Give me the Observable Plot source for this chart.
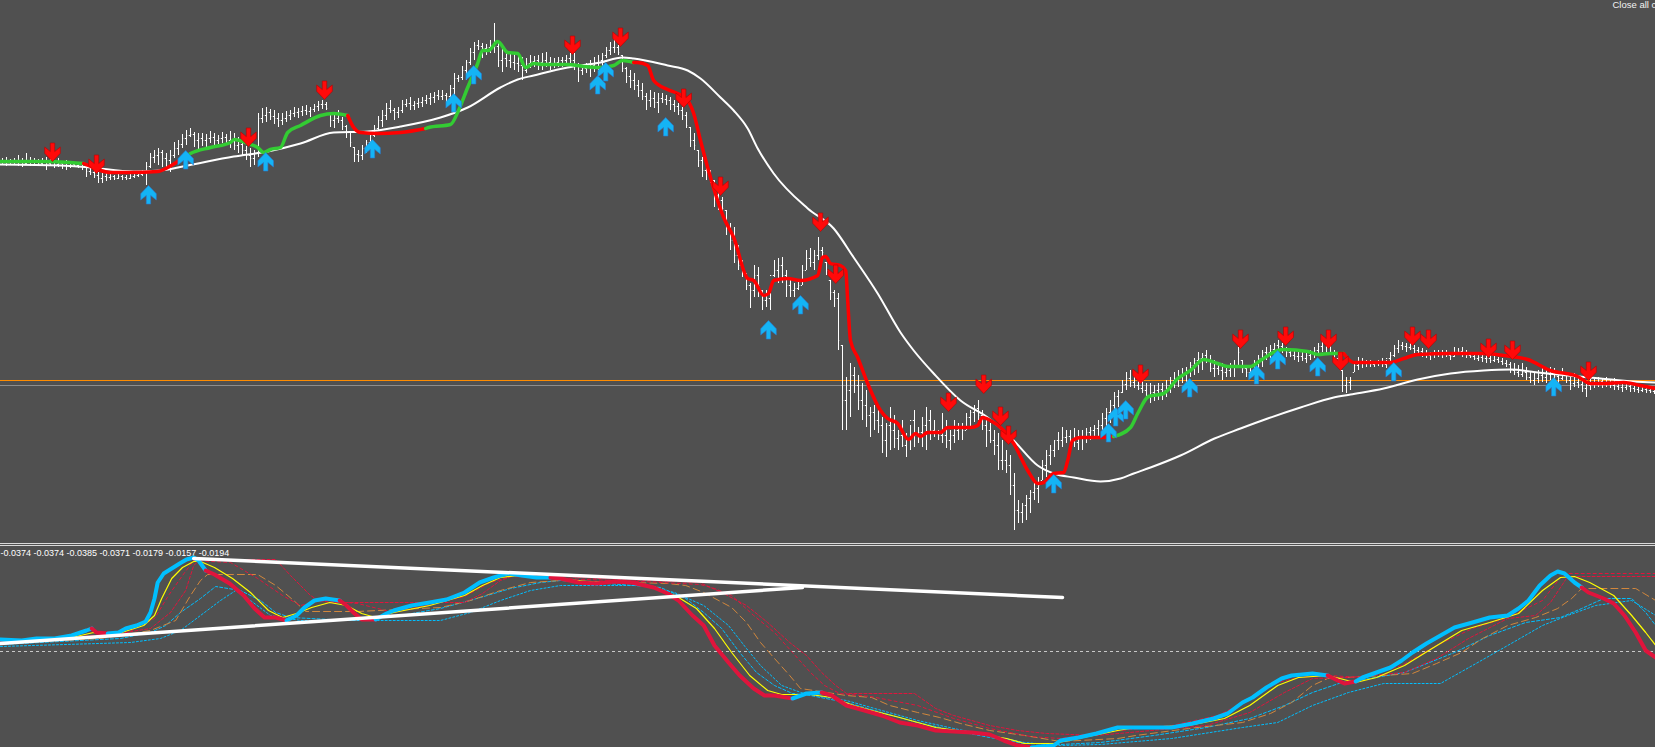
<!DOCTYPE html>
<html><head><meta charset="utf-8">
<script src="https://cdn.jsdelivr.net/npm/d3@7"></script>
<script src="https://cdn.jsdelivr.net/npm/@observablehq/plot@0.6"></script>
<style>
html,body{margin:0;padding:0;background:#505050;overflow:hidden;width:1655px;height:747px}
#main,#osc{line-height:0}
#sep{height:1px;border-top:1px solid #d9d9d9;border-bottom:1px solid #d9d9d9;background:#505050}
svg{display:block}
</style></head><body>
<div id="main"></div><div id="sep"></div><div id="osc"></div>
<script>
// ---------- price panel (levels measured downward, 0 = top of panel) ----------
const barHigh = [
158,157,159,158,155,158,153,157,158,159,
158,157,159,160,158,161,160,162,163,164,
163,165,167,170,172,173,172,174,175,174,
175,175,174,172,171,170,162,153,150,148,
150,153,150,142,140,134,130,128,132,133,
133,134,131,133,135,132,134,131,133,137,
142,146,148,150,113,108,107,109,110,113,
113,111,110,107,108,106,105,107,104,101,
100,102,113,115,110,117,125,132,147,150,
145,140,133,125,116,110,103,100,108,107,
100,99,97,101,98,97,95,93,92,90,
90,93,85,73,75,66,60,48,42,40,
43,44,40,23,43,47,50,52,53,55,
57,58,55,56,55,53,52,57,58,57,
57,55,53,53,63,65,63,60,57,55,
53,47,42,38,45,55,67,70,73,80,
83,93,90,92,93,93,95,97,100,103,
107,112,127,133,150,157,165,170,180,188,
197,210,223,227,245,260,273,283,265,267,
290,290,293,260,258,257,270,280,283,280,
265,250,248,250,237,247,262,280,290,293,
345,377,363,367,375,383,390,407,405,410,
417,423,407,415,430,420,433,425,410,427,
417,407,410,420,430,413,420,430,420,423,
423,413,410,405,400,410,417,423,430,433,
440,450,455,473,500,503,495,490,483,477,
460,450,445,440,432,427,430,430,428,430,
430,428,427,425,420,413,408,400,392,390,
380,372,370,373,377,380,383,383,385,383,
383,380,377,372,370,368,367,362,358,352,
353,350,355,360,362,363,365,363,360,347,
360,365,367,360,355,350,347,345,343,340,
343,347,348,350,350,350,353,350,347,343,
338,340,340,350,353,370,377,377,362,357,
358,360,360,361,360,358,360,352,345,340,
342,343,343,345,347,348,350,352,350,350,
350,350,352,347,348,347,350,352,353,355,
353,355,353,355,357,358,360,362,363,365,
363,367,372,373,370,368,370,367,368,372,
368,372,377,373,375,377,380,378,378,377,
378,377,380,378,380,382,383,383,385,385,
385,385,386,387];
const barLow = [
165,166,164,165,166,167,165,166,164,166,
166,170,165,168,167,169,170,168,167,168,
170,177,175,178,183,183,181,180,180,179,
180,180,179,178,177,176,185,168,163,165,
167,168,172,158,155,148,145,137,147,150,
146,147,143,145,144,143,145,148,150,153,
156,160,167,165,157,123,122,120,124,127,
125,122,120,117,118,116,115,117,112,111,
109,110,127,128,123,130,138,147,162,162,
160,153,147,137,130,127,120,113,120,118,
113,107,110,110,108,107,104,105,103,100,
100,103,100,96,82,80,80,65,60,50,
58,55,53,53,67,72,67,68,70,72,
80,73,68,67,70,70,67,70,68,67,
67,65,67,70,82,75,73,77,72,70,
70,58,55,53,55,72,83,88,90,97,
100,110,107,108,113,103,105,110,112,115,
120,128,147,150,167,177,180,183,207,210,
213,235,250,263,270,277,290,308,297,297,
310,307,310,277,283,283,297,297,297,290,
285,270,267,270,260,257,275,300,307,350,
430,430,417,393,410,420,427,437,430,433,
453,457,450,448,450,447,457,450,447,443,
447,450,440,437,440,443,448,450,443,440,
440,430,427,422,420,430,447,443,455,470,
470,473,495,530,523,523,520,513,500,503,
480,477,465,457,450,447,443,443,447,450,
450,443,440,438,437,430,428,423,410,407,
393,390,387,388,390,393,400,403,401,400,
400,397,393,388,387,383,382,377,375,373,
370,363,372,377,375,380,377,377,377,367,
373,377,377,375,370,367,360,358,357,353,
353,357,357,360,362,361,363,360,358,353,
352,353,355,363,367,392,393,390,372,370,
368,367,367,367,366,367,368,363,357,353,
350,352,350,353,353,357,358,360,358,357,
358,357,360,357,355,357,358,358,360,361,
362,363,363,362,363,365,367,373,375,377,
377,380,383,385,383,382,383,380,380,383,
380,383,390,387,388,392,397,390,388,387,
388,387,388,390,390,392,390,392,392,393,
392,393,393,394];
const barClose = [
161,162,160,162,161,163,160,161,162,163,
162,163,162,164,163,165,166,164,165,166,
167,171,172,175,178,176,177,176,178,176,
177,178,176,175,174,172,166,157,155,152,
158,160,155,148,144,138,135,134,140,138,
140,138,137,140,138,137,140,141,145,144,
150,155,158,152,118,115,112,116,118,120,
118,115,113,112,111,110,111,109,106,104,
104,108,120,118,120,126,132,142,154,155,
148,142,135,128,120,115,108,110,112,110,
104,103,105,103,102,100,98,97,95,96,
95,96,88,78,77,70,62,52,45,46,
48,47,45,46,60,58,60,62,63,65,
70,63,61,60,62,60,62,63,62,60,
60,58,60,66,70,68,66,65,62,60,
55,50,47,47,52,68,76,80,85,90,
96,100,98,102,98,99,100,104,106,110,
115,125,140,145,160,170,172,180,195,200,
208,228,240,255,265,272,285,290,275,285,
300,298,275,270,265,275,285,290,288,285,
270,258,262,255,250,252,270,292,298,340,
400,390,375,385,400,405,415,412,420,425,
440,425,430,438,435,445,440,420,435,432,
425,420,430,433,435,435,440,435,430,428,
430,417,412,408,415,425,430,440,445,460,
460,465,485,510,512,505,498,492,488,485,
465,455,450,440,440,437,436,440,442,438,
436,432,430,428,425,418,412,405,396,392,
384,378,382,385,388,390,395,392,390,389,
390,385,380,378,375,373,370,365,360,358,
355,360,368,368,370,372,370,366,365,352,
368,372,370,362,358,352,352,349,345,346,
350,352,355,356,356,358,355,352,350,346,
342,346,352,358,365,385,382,380,365,362,
363,362,364,363,362,364,358,355,348,345,
346,347,348,350,351,353,355,354,353,352,
354,355,356,352,351,354,355,356,358,357,
358,358,360,359,361,363,364,370,372,374,
372,377,380,378,375,377,374,372,376,378,
375,380,383,382,384,388,385,383,382,381,
383,384,385,386,387,387,386,388,389,390,
389,390,391,391];
const firstOpen = 161;

// slow moving average [bar, level]
const slowMA = [[-0.5,164],[14.5,165],[22,167],[32.8,171],[39.5,170],[46.3,165],[57.8,156],[66.3,151],[74.5,143],[82.8,132],[91.3,131],[99.5,126],[109.5,117],[116.3,107],[124.5,87],[128.8,79],[132.8,75],[141.3,67],[149.5,62],[155,57],[157.8,58],[166.3,65],[171.3,70],[174.5,78],[179.5,97],[182.8,110],[186.3,128],[188.8,148],[192.8,173],[201.3,208],[207.8,228],[212.8,257],[218.8,293],[224.5,332],[227.8,350],[232.8,373],[239.5,400],[246.3,417],[252.8,440],[258.8,465],[262.8,473],[267.8,477],[274.5,481],[279.5,478],[282.8,473],[287,467],[294.5,455],[303,438],[309.5,428],[316.3,418],[324.5,407],[332.8,397],[337,394],[345.3,388],[353.8,379],[362,373],[370.3,370],[377,369],[383.8,372],[391.3,375],[399.5,378],[407.8,381],[413.3,382]];

// trend-coloured fast average [bar, level, trend]  g = up, r = down
const fastMA = [[-0.5,161,"g"],[9.5,161,"g"],[17,162,"g"],[20.3,163,"g"],[21.5,165,"r"],[24.5,170,"r"],[27,172,"r"],[32,172,"r"],[38.8,171,"r"],[41.3,167,"r"],[43.8,161,"r"],[45,158,"r"],[47,153,"g"],[52,147,"g"],[57,142,"g"],[58,139,"g"],[61.3,143,"g"],[63.8,147,"g"],[65.3,152,"g"],[67,149,"g"],[69.5,147,"g"],[71.3,132,"g"],[74.5,125,"g"],[79.5,115,"g"],[82.8,113,"g"],[86.3,115,"g"],[87.8,127,"r"],[89.5,132,"r"],[93.8,133,"r"],[99.5,132,"r"],[105.8,128,"r"],[106.5,127,"g"],[112,124,"g"],[114,110,"g"],[116.3,87,"g"],[118.8,63,"g"],[120,50,"g"],[121.5,50,"g"],[123.8,41,"g"],[126.3,52,"g"],[128.8,53,"g"],[130.8,67,"g"],[132.8,63,"g"],[135.3,64,"g"],[141.3,64,"g"],[145.3,66,"g"],[149.5,67,"g"],[152.8,65,"g"],[155,60,"g"],[157.8,62,"g"],[158.8,62,"r"],[161.3,65,"r"],[162.8,80,"r"],[166.3,89,"r"],[168.8,93,"r"],[171.3,100,"r"],[172.8,113,"r"],[174.5,140,"r"],[177,177,"r"],[180.3,217,"r"],[182.8,237,"r"],[186.3,278,"r"],[187.8,280,"r"],[190.3,295,"r"],[191.5,293,"r"],[192.8,280,"r"],[196.3,278,"r"],[199.5,280,"r"],[203.8,275,"r"],[205,257,"r"],[205.8,256,"r"],[207,263,"r"],[209.5,265,"r"],[210.8,270,"r"],[211.3,300,"r"],[212,340,"r"],[213.8,357,"r"],[216.3,383,"r"],[219.5,410,"r"],[221.3,418,"r"],[223.8,423,"r"],[226.5,439,"r"],[228.3,433,"r"],[229.5,436,"r"],[231.3,432,"r"],[234.5,432,"r"],[236.3,427,"r"],[242,427,"r"],[243.8,425,"r"],[245,417,"r"],[247,420,"r"],[250.3,430,"r"],[252.8,443,"r"],[256.3,470,"r"],[258.8,483,"r"],[260.3,482,"r"],[262.8,473,"r"],[265.3,472,"r"],[266.3,460,"r"],[267.5,440,"r"],[269.5,437,"r"],[274.5,437,"r"],[277.8,436,"r"],[282,427,"g"],[283.8,413,"g"],[286.5,396,"g"],[290.3,393,"g"],[293.8,378,"g"],[297,370,"g"],[300.3,359,"g"],[303.8,363,"g"],[306.3,366,"g"],[312,366,"g"],[314.5,360,"g"],[318.8,350,"g"],[320.3,349,"g"],[326.3,351,"g"],[328.8,354,"g"],[332,353,"g"],[335.3,353,"g"],[337.8,362,"r"],[341.3,362,"r"],[347,362,"r"],[350.3,358,"r"],[353.8,354,"r"],[362,353,"r"],[370.3,353,"r"],[375.3,355,"r"],[381.3,359,"r"],[387,370,"r"],[393.8,376,"r"],[397,383,"r"],[400.3,383,"r"],[405.3,382,"r"],[409.5,385,"r"],[413.3,388,"r"]];

// signal arrows [bar, level]
const sellArrows = [[12.5,152],[23.5,164],[61.5,137],[80.5,90],[142.5,45],[154.5,37],[170.3,98],[179.5,186],[204.5,222],[208.3,274],[236.5,402],[245.3,384],[249.5,416],[251.5,435],[284.5,374],[309.5,339],[320.8,336],[331.5,339],[334.5,361],[352.5,336],[356.5,339],[371.5,348],[377.5,350],[396.5,371]];
const buyArrows = [[36.5,194],[45.8,159],[65.8,161],[92.5,148],[112.8,102],[117.8,74],[148.8,84],[150.8,71],[165.8,126],[191.5,329],[199.5,304],[262.8,483],[276.5,432],[278.3,416],[280.8,409],[296.8,387],[313.5,374],[318.8,359],[328.8,366],[347.8,371],[387.8,386]];

const askLevel = 380, bidLevel = 385;
const buttonLabel = "Close all c";

// ---------- oscillator panel (levels measured downward) ----------
const oscMain = [[-0.5,639,"b"],[4.8,640,"b"],[8.5,638,"b"],[13,638,"b"],[17.3,635,"b"],[21,630,"b"],[22.3,628,"b"],[23.5,632,"r"],[26.3,633,"r"],[29,632,"b"],[30.8,628,"b"],[33.5,625,"b"],[35.8,621,"b"],[37,612,"b"],[38,598,"b"],[38.8,582,"b"],[40.3,573,"b"],[42.3,568,"b"],[44.3,563,"b"],[46,559,"b"],[47.8,557,"b"],[49,560,"b"],[50.8,570,"b"],[53,574,"r"],[56.8,583,"r"],[60.3,595,"r"],[63,608,"r"],[65.5,617,"r"],[68.3,617,"r"],[71,620,"r"],[73.5,615,"b"],[75.5,607,"b"],[78,600,"b"],[80.8,598,"b"],[84.3,600,"b"],[86,605,"r"],[88,613,"r"],[89.8,619,"r"],[93.3,619,"r"],[96,613,"b"],[97.8,610,"b"],[102.3,605,"b"],[106.8,602,"b"],[111,599,"b"],[115.5,592,"b"],[119.3,582,"b"],[122.8,577,"b"],[126.3,573,"b"],[129.8,575,"b"],[133.5,577,"b"],[137,577,"b"],[139.5,578,"r"],[144,582,"r"],[148.5,583,"r"],[153,581,"r"],[157.3,582,"r"],[162.8,587,"r"],[166.3,593,"r"],[169,600,"r"],[172.5,615,"r"],[175.3,625,"r"],[178,645,"r"],[181.5,662,"r"],[184.3,675,"r"],[187.8,688,"r"],[190.5,695,"r"],[193,695,"r"],[197.5,698,"r"],[201,693,"b"],[204.8,692,"b"],[207.3,695,"r"],[211,705,"r"],[215.5,710,"r"],[219.8,715,"r"],[224.3,722,"r"],[228.8,725,"r"],[233.3,730,"r"],[237.8,731,"r"],[242.3,732,"r"],[246.8,734,"r"],[250.3,740,"r"],[253.8,745,"r"],[257.3,747,"r"],[262.8,745,"b"],[264.5,740,"b"],[269,737,"b"],[273.5,733,"b"],[278.8,727,"b"],[283.3,727,"b"],[292.3,727,"b"],[297.5,723,"b"],[302.8,718,"b"],[306.3,713,"b"],[310,702,"b"],[312.5,697,"b"],[316,687,"b"],[319.8,678,"b"],[322.3,675,"b"],[327.5,673,"b"],[331.3,675,"b"],[333.8,680,"r"],[335.5,683,"r"],[338.3,681,"r"],[340,677,"b"],[343.5,672,"b"],[347,667,"b"],[349.8,660,"b"],[352.5,652,"b"],[356,643,"b"],[359.5,635,"b"],[363,627,"b"],[367.5,622,"b"],[371.8,617,"b"],[376.3,615,"b"],[379,608,"b"],[381.5,600,"b"],[384.3,585,"b"],[387,575,"b"],[388.8,571,"b"],[390.5,573,"b"],[393,582,"b"],[394.8,587,"b"],[396.5,592,"r"],[400.3,598,"r"],[402.8,603,"r"],[405.5,615,"r"],[408.3,632,"r"],[410.8,650,"r"],[413.3,657,"r"]];
const oscSignal = [[-0.5,642],[17.3,637],[22.8,632],[29,633],[35.3,625],[38,615],[39.8,598],[42.3,578],[45,567],[47.8,561],[49.5,561],[53,567],[57.5,578],[62,592],[66.5,610],[70,617],[73.5,613],[77.3,607],[81.8,602],[86,605],[89.8,613],[93.3,617],[97.8,612],[106.8,605],[115.5,595],[120,585],[124.5,577],[129,575],[138.8,578],[148.5,582],[157.3,582],[163.5,587],[169,597],[173.5,608],[178,628],[182.3,652],[186.8,675],[191.3,690],[194.8,694],[202,694],[207.3,697],[212.8,705],[217.3,710],[224.3,717],[233.3,727],[242.3,732],[251,738],[255.5,743],[262.8,743],[269,738],[278.8,730],[283.3,727],[296.5,725],[305.5,718],[311.8,705],[318.8,685],[324,677],[331.3,675],[338.3,682],[343.5,677],[350.5,665],[357.8,647],[364.8,630],[371.8,622],[379,613],[385,590],[389.5,577],[393,576],[396.8,582],[402.8,595],[407.3,615],[410.8,632],[413.3,645]];
const lagRedFar = [[-0.5,642],[24.5,636],[37,628],[42,612],[45.8,590],[47.8,565],[49.5,559],[68.3,559],[72,575],[77,595],[79,600],[82,602],[115.5,602],[120,593],[124.5,580],[128,575],[139.5,576],[159.5,580],[174.3,582],[179.8,592],[186,605],[191.3,622],[196.8,642],[201,655],[204.8,672],[208.3,685],[211,693],[228,693],[233.3,708],[237.8,715],[246.8,725],[253.8,730],[261,733],[273.5,735],[301,725],[311.8,712],[320.5,692],[327.5,678],[336.5,677],[350.5,672],[358.5,658],[366.5,638],[376.3,618],[383.3,615],[387,602],[391.3,576],[413.3,576]];
const lagRedNear = [[-0.5,641],[30.8,633],[38,618],[41.5,595],[45,575],[47.8,560],[57,562],[63.8,578],[70,595],[74.5,605],[79.8,600],[88.8,603],[97.8,612],[107,604],[115.5,596],[122,582],[127,576],[139.5,578],[159.5,581],[174.5,584],[178,588],[182.3,595],[187.8,615],[193,632],[197.5,652],[202,672],[205.5,685],[209.3,693],[217,696],[228.8,705],[237.8,718],[246.8,728],[257,736],[264.5,738],[274.5,732],[292.3,725],[303.8,715],[312.5,698],[318.8,682],[324,677],[331.3,675],[340,677],[349.8,665],[358.5,645],[367.5,628],[376.3,617],[385,600],[389.5,577],[391.3,573],[413.3,573]];
const lagOrange = [[-0.5,643],[24.5,638],[37,630],[43.3,620],[47,595],[49.5,580],[51.3,574],[63.8,574],[68.3,585],[72.8,600],[75.8,611],[88.8,611],[109.5,607],[117,600],[124.5,590],[132,582],[139.5,580],[166.3,583],[170.8,585],[175.3,592],[182.3,607],[186,622],[189.5,642],[193,658],[196.8,675],[199.5,688],[211,695],[217.3,697],[221.8,705],[228.8,712],[234.3,717],[239.5,723],[246.8,730],[255.5,735],[264.5,741],[278.8,738],[283.3,735],[296.5,728],[310,722],[317,713],[322.3,702],[327.5,685],[331.3,678],[345.3,675],[352.5,673],[358.5,663],[364.8,652],[370,638],[376.3,625],[383.3,617],[388.8,608],[392.3,598],[394.8,588],[408.3,588],[413.3,600]];
const lagBlueNear = [[-0.5,644],[29.5,638],[37,632],[40.8,625],[44.5,612],[49.5,598],[53.3,586],[59.5,590],[64.5,600],[68.3,612],[72,617],[77,618],[87,620],[99.5,615],[109.5,608],[119.5,597],[127,588],[134.5,582],[139.5,580],[154.5,584],[164.5,587],[170.8,598],[175.3,612],[179.8,628],[184.3,652],[188.5,672],[193,685],[197.5,693],[202,695],[211,702],[219.8,712],[228.8,722],[237.8,730],[246.8,737],[255.5,743],[264.5,744],[274.5,742],[287.8,735],[301,727],[311.8,718],[320.5,705],[327.5,692],[334.8,682],[341.8,678],[350.5,672],[363,652],[371.8,635],[380.8,622],[389.5,617],[394.8,608],[400.3,598],[407.3,598],[410.8,612],[413.3,625]];
const lagBlueFar = [[-0.5,646],[32,642],[39.5,638],[44.5,630],[49.5,615],[54.5,600],[58.3,590],[62,600],[67,615],[74.5,620],[109.5,620],[117,612],[124.5,600],[132,590],[139.5,585],[159.5,585],[168,592],[175.3,605],[181.5,625],[186,648],[189.5,665],[194.8,685],[200.3,693],[211,700],[219.8,710],[228.8,720],[237.8,728],[246.8,735],[255.5,742],[264.5,745],[274.5,744],[292.3,738],[310,727],[318.8,722],[327.5,705],[336.5,692],[345.3,683],[359.5,683],[367.5,665],[376.3,645],[385,625],[391.3,615],[398.3,605],[407.3,600],[413.3,615]];
const trendUpper = [[47.8,558],[265,597]];
const trendLower = [[-0.5,643],[200,587]];
const zeroLevel = 651;
const bufferValues = [-0.0374, -0.0374, -0.0385, -0.0371, -0.0179, -0.0157, -0.0194];

// ---------- helpers ----------
const bars = barHigh.map((h, k) => {
  const lo = barLow[k], prev = k ? barClose[k - 1] : firstOpen;
  return {k, hi: h, lo, close: barClose[k], open: Math.min(lo, Math.max(h, prev))};
});
function segments(points) {
  const out = []; let s = 0;
  points.forEach((p, i) => {
    if (i > 0 && p[2] !== points[i - 1][2]) { s++; const q = points[i - 1]; out.push({x: q[0], y: q[1], c: p[2], s}); }
    out.push({x: p[0], y: p[1], c: p[2], s});
  });
  return out;
}
const trendColor = {g: "#33cc33", r: "#ff0000"};
const oscColor = {b: "#00bfff", r: "#e0143c"};
function arrowShape(dir) {
  const pts = [[-2.2,-9.5],[2.2,-9.5],[2.2,-1],[7.8,-5.5],[7.8,0.8],[0,9],[-7.8,0.8],[-7.8,-5.5],[-2.2,-1]];
  return {draw(ctx) {
    pts.forEach(([x, y], i) => i ? ctx.lineTo(x, y * dir) : ctx.moveTo(x, y * dir));
    ctx.closePath();
  }};
}
const X = d => d[0], Y = d => d[1];
const xScale = {domain: [-0.5, 413.25], axis: null};
const common = {width: 1655, margin: 0, x: xScale, color: {type: "identity"},
  style: {background: "#505050", overflow: "hidden"}};

const main = Plot.plot({
  ...common, height: 543,
  y: {domain: [543, 0], axis: null},
  marks: [
    Plot.ruleY([askLevel], {stroke: "#ff8c00", strokeWidth: 1}),
    Plot.ruleY([bidLevel], {stroke: "#8c8c8c", strokeWidth: 1}),
    Plot.ruleX(bars, {x: "k", y1: "hi", y2: "lo", stroke: "#ffffff", strokeWidth: 1}),
    Plot.ruleY(bars, {y: "open", x1: d => d.k - 0.3, x2: "k", stroke: "#ffffff", strokeWidth: 1}),
    Plot.ruleY(bars, {y: "close", x1: "k", x2: d => d.k + 0.3, stroke: "#ffffff", strokeWidth: 1}),
    Plot.line(slowMA, {x: X, y: Y, stroke: "#ffffff", strokeWidth: 2, curve: "monotone-x"}),
    Plot.line(segments(fastMA), {x: "x", y: "y", z: "s", stroke: d => trendColor[d.c], strokeWidth: 3.5, curve: "monotone-x", strokeLinecap: "round"}),
    Plot.dot(sellArrows, {x: X, y: Y, r: 8, symbol: arrowShape(1), fill: "#ff0a0a", stroke: "#b80000", strokeWidth: 0.6}),
    Plot.dot(buyArrows, {x: X, y: Y, r: 8, symbol: arrowShape(-1), fill: "#14b4f5", stroke: "#2a78d0", strokeWidth: 0.6}),
    Plot.text([buttonLabel], {frameAnchor: "top-left", dx: 1612, dy: 1, lineAnchor: "top", textAnchor: "start", fill: "#f2f2f2", fontSize: 9.5, fontFamily: "Liberation Sans"})
  ]
});
document.getElementById("main").appendChild(main);

const dashed = (data, color, dash, w = 1) => Plot.line(data, {x: X, y: Y, stroke: color, strokeWidth: w, strokeDasharray: dash});
const osc = Plot.plot({
  ...common, height: 201,
  y: {domain: [747, 546], axis: null},
  marks: [
    Plot.text([bufferValues.map(v => v.toFixed(4)).join(" ")], {frameAnchor: "top-left", dx: 0, dy: 3, lineAnchor: "top", textAnchor: "start", fill: "#ffffff", fontSize: 9, fontFamily: "Liberation Sans"}),
    Plot.ruleY([zeroLevel], {stroke: "#c8c8c8", strokeDasharray: "3,3"}),
    dashed(lagBlueFar, "#00bfff", "2,2"),
    dashed(lagBlueNear, "#00bfff", "3,2"),
    dashed(lagOrange, "#d2873c", "7,4"),
    dashed(lagRedFar, "#e0143c", "3,2"),
    dashed(lagRedNear, "#e0143c", "3,3"),
    Plot.line(oscSignal, {x: X, y: Y, stroke: "#ffff00", strokeWidth: 1.2}),
    Plot.line(segments(oscMain), {x: "x", y: "y", z: "s", stroke: d => oscColor[d.c], strokeWidth: 4, strokeLinecap: "round"}),
    Plot.line(trendUpper, {x: X, y: Y, stroke: "#ffffff", strokeWidth: 3.5}),
    Plot.line(trendLower, {x: X, y: Y, stroke: "#ffffff", strokeWidth: 3.5})
  ]
});
document.getElementById("osc").appendChild(osc);
</script></body></html>
